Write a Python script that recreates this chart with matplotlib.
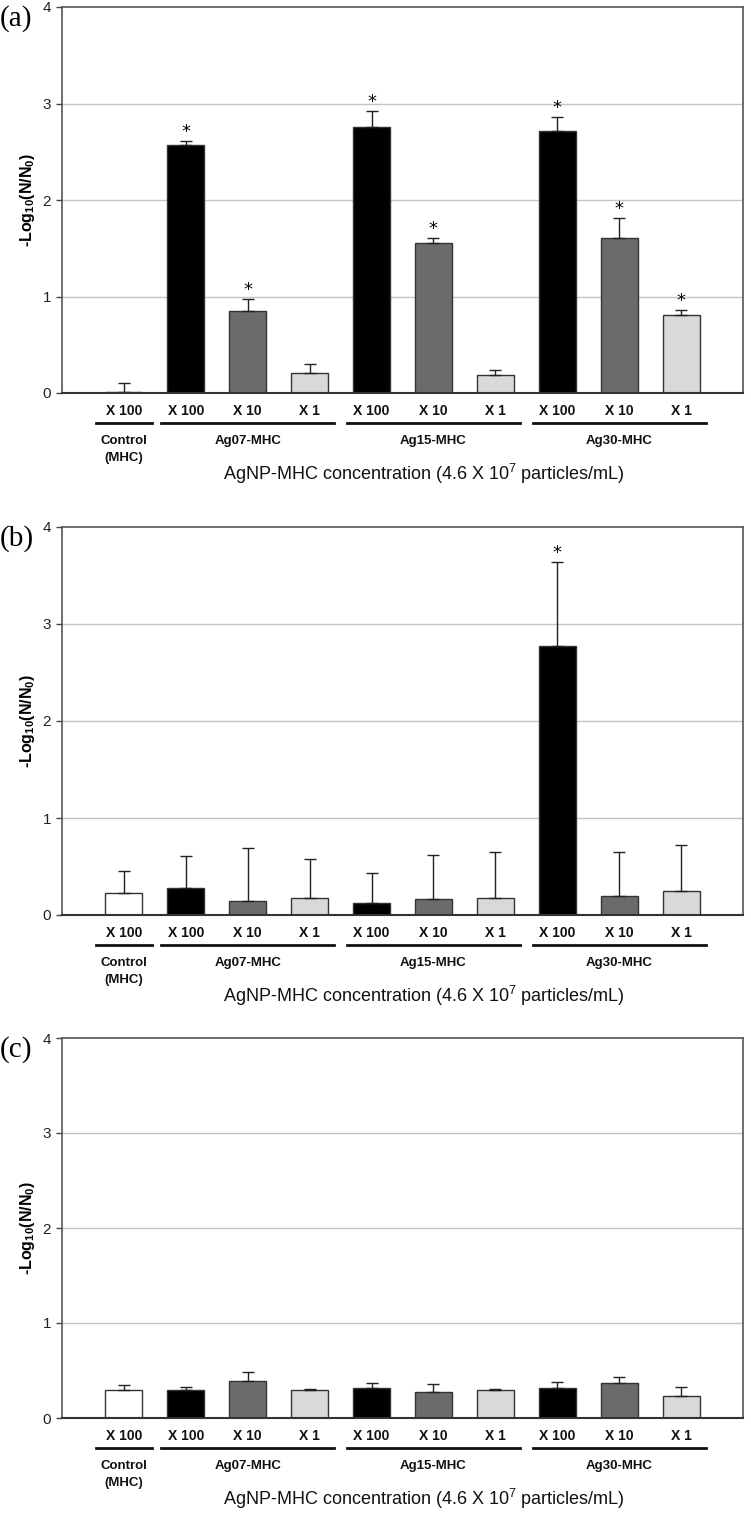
import matplotlib
matplotlib.use("Agg")
import matplotlib.pyplot as plt
import matplotlib.transforms as mtransforms
from matplotlib.lines import Line2D
import numpy as np

# data
tick_labels = ["X 100", "X 100", "X 10", "X 1", "X 100", "X 10", "X 1", "X 100", "X 10", "X 1"]
groups = ["Control\n(MHC)", "Ag07-MHC", "Ag15-MHC", "Ag30-MHC"]
group_members = [[0], [1, 2, 3], [4, 5, 6], [7, 8, 9]]
bar_colors = ["#ffffff", "#000000", "#6b6b6b", "#d9d9d9",
              "#000000", "#6b6b6b", "#d9d9d9",
              "#000000", "#6b6b6b", "#d9d9d9"]

vals_a = [0.01, 2.57, 0.85, 0.21, 2.76, 1.55, 0.19, 2.72, 1.61, 0.81]
err_a = [0.09, 0.04, 0.12, 0.09, 0.16, 0.06, 0.05, 0.14, 0.20, 0.05]
star_a = [False, True, True, False, True, True, False, True, True, True]

vals_b = [0.23, 0.28, 0.14, 0.18, 0.12, 0.17, 0.18, 2.77, 0.20, 0.25]
err_b = [0.22, 0.33, 0.55, 0.40, 0.31, 0.45, 0.47, 0.87, 0.45, 0.47]
star_b = [False, False, False, False, False, False, False, True, False, False]

vals_c = [0.30, 0.30, 0.39, 0.30, 0.32, 0.27, 0.30, 0.32, 0.37, 0.23]
err_c = [0.05, 0.03, 0.09, 0.01, 0.05, 0.09, 0.01, 0.06, 0.06, 0.10]
star_c = [False] * 10

panels = [("(a)", vals_a, err_a, star_a),
          ("(b)", vals_b, err_b, star_b),
          ("(c)", vals_c, err_c, star_c)]

narrow = ["Liberation Sans Narrow", "Liberation Sans", "DejaVu Sans"]
plt.rcParams["font.family"] = narrow
plt.rcParams["mathtext.fontset"] = "custom"
plt.rcParams["mathtext.bf"] = "Liberation Sans:bold"
plt.rcParams["mathtext.rm"] = "Liberation Sans"

W, H = 751, 1516
fig = plt.figure(figsize=(W / 100, H / 100), dpi=100)

# axes boxes in pixels: (top, zero line)
boxes = [(7, 393), (527, 915), (1038, 1418)]
left_px, right_px = 62, 743

x = np.arange(len(tick_labels))

for (label, vals, errs, stars), (top, zero) in zip(panels, boxes):
    ax = fig.add_axes([left_px / W, (H - zero) / H, (right_px - left_px) / W, (zero - top) / H])
    ax.bar(x, vals, width=0.6, color=bar_colors, edgecolor="#333333", linewidth=1.0, zorder=3)
    ax.errorbar(x, vals, yerr=[np.zeros(len(vals)), errs], fmt="none", ecolor="#222222",
                elinewidth=1.0, capsize=4, capthick=1.0, zorder=4)
    for xi, v, e, s in zip(x, vals, errs, stars):
        if s:
            ax.annotate("*", (xi, v + e), xytext=(0, 0), textcoords="offset points",
                        ha="center", va="bottom", fontsize=13, family="DejaVu Sans")
    ax.set_xlim(-1, 10)
    ax.set_ylim(0, 4)
    ax.set_yticks([0, 1, 2, 3, 4])
    ax.set_yticklabels(["0", "1", "2", "3", "4"], fontsize=11, color="#222222")
    ax.set_xticks([])
    ax.tick_params(axis="y", length=4, width=1, color="#444444", pad=4)
    for yv in [1, 2, 3]:
        ax.axhline(yv, color="#c4c4c4", linewidth=1.0, zorder=1)
    for sp in ["left", "right", "top"]:
        ax.spines[sp].set_color("#555555")
        ax.spines[sp].set_linewidth(1.2)
    ax.spines["bottom"].set_color("#333333")
    ax.spines["bottom"].set_linewidth(1.5)
    ax.spines["bottom"].set_zorder(5)

    ax.set_ylabel(r"-Log$_{\mathbf{10}}$(N/N$_{\mathbf{0}}$)", fontsize=11.5, fontweight="bold",
                  labelpad=4, family=["Liberation Sans", "DejaVu Sans"])

    trans = mtransforms.blended_transform_factory(ax.transData, ax.transAxes)
    off = lambda dy: mtransforms.offset_copy(trans, fig=fig, x=0, y=-dy, units="dots")

    for xi, t in zip(x, tick_labels):
        ax.text(xi, 0, t, transform=off(18), ha="center", va="center",
                fontsize=10, fontweight="bold", color="#111111")
    for name, members in zip(groups, group_members):
        x0 = members[0] - 0.4 if len(members) > 1 else members[0] - 0.45
        x1 = members[-1] + 0.4 if len(members) > 1 else members[-1] + 0.45
        ax.add_line(Line2D([x0, x1], [0, 0], transform=off(30), color="#111111",
                           linewidth=2, clip_on=False))
        ax.text(np.mean(members), 0, name, transform=off(42), ha="center", va="top",
                fontsize=9.5, fontweight="bold", color="#111111", linespacing=1.6)
    ax.text(4.85, 0, "AgNP-MHC concentration (4.6 X 10$^7$ particles/mL)", transform=off(81),
            ha="center", va="center", fontsize=13, color="#111111")

    fig.text(0 / W, 1 - (top + 12) / H, label, ha="left", va="center", fontsize=21,
             family=["Liberation Serif", "DejaVu Serif"])

fig.savefig("out.png", dpi=100, facecolor="white")
